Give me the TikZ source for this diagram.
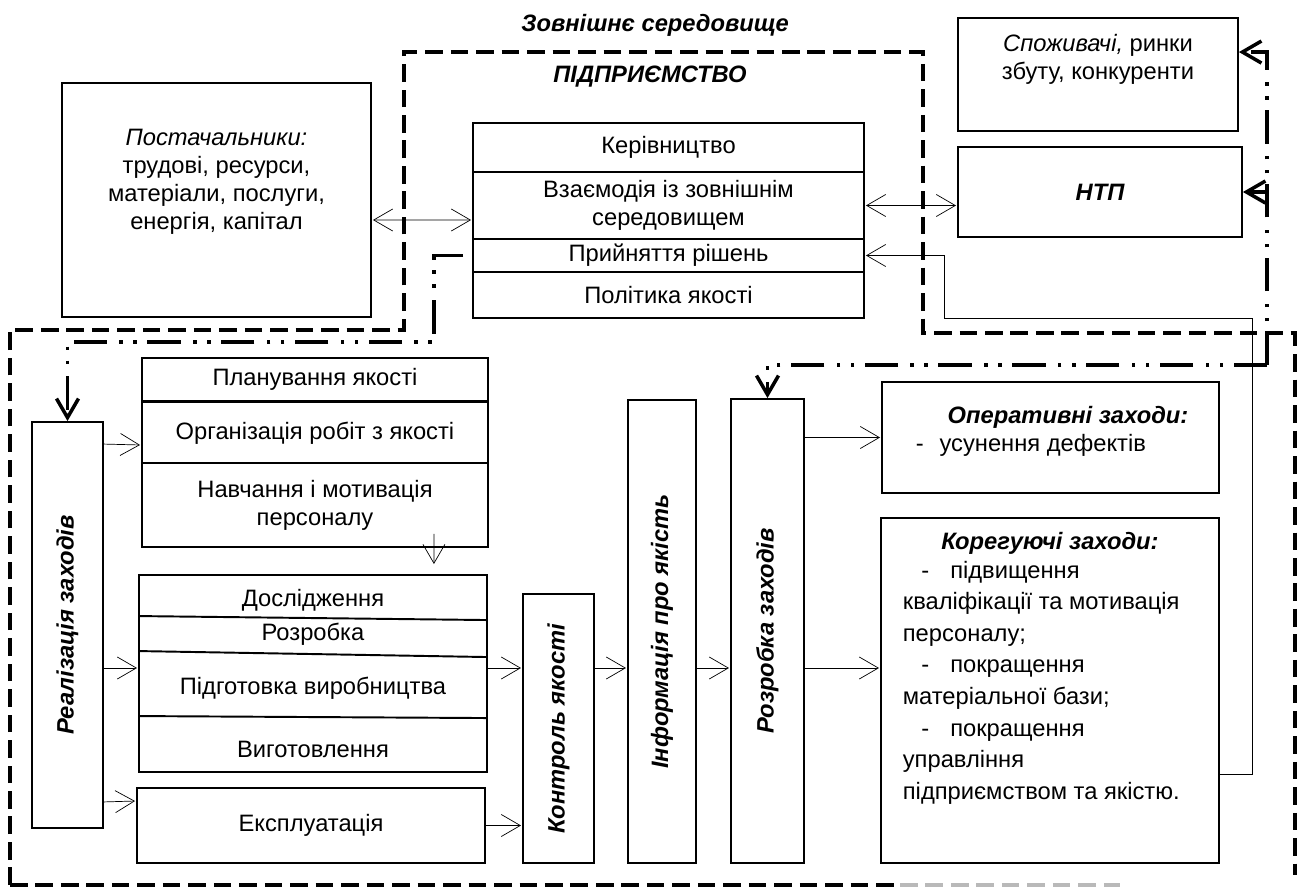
\documentclass[tikz,border=0pt]{standalone}
\usepackage{fontspec}
\setmainfont{Liberation Sans}
\usepackage{tikz}
\usetikzlibrary{
  arrows.meta,
  calc
}

\newcommand{\rowarrow}[2]{%
  \draw[->] (#1.east |- midrow) -- (#2.west |- midrow);
}

\begin{document}
\begin{tikzpicture}[x=0.02cm, y=-0.02cm]

\tikzset{
  block/.style={
    draw,
    rectangle,
    fill=white,
    inner sep=0pt,
    align=center,
    line width=1.1pt,
    font=\fontsize{13.5}{16}\selectfont
},
  caption/.style={
    inner sep=0pt,
    align=center,
    font=\fontsize{13.5}{16}\selectfont
},
  heading/.style={
    inner sep=0pt,
    font=\fontsize{13.5}{16}\selectfont\bfseries\itshape
},
  entborder/.style={
    line width=2.8pt,
    dash pattern=on 10pt off 4.5pt
},
  dashdotline/.style={
    line width=2pt,
    dash pattern=on 19pt off 6pt on 2pt off 6pt on 2pt off 7pt
},
  >={Straight Barb[length=3.8mm, width=4.4mm]},
  line width=1pt
}

\useasboundingbox (0,0) rectangle (1299,889);

% NODES ----------------------------------------------------------

% Titles
\node[heading] (envtitle) at (655,25) {Зовнішнє середовище};
\node[heading] (enttitle) at (650,77) {ПІДПРИЄМСТВО};

% Outside boxes
\node[block, minimum width=6.18cm, minimum height=4.68cm] (supp) at (216.5,200) {};
\node[caption] (supptext) at (216.5,182) {\textit{Постачальники:}\\трудові, ресурси,\\матеріали, послуги,\\енергія, капітал};
\node[block, minimum width=5.6cm, minimum height=2.26cm] (cons) at (1098,74.5) {};
\node[caption] (constext) at (1098,59) {\textit{Споживачі,} ринки\\збуту, конкуренти};
\node[block, minimum width=5.68cm, minimum height=1.8cm] (ntp) at (1100,192) {\bfseries\itshape НТП};

% Management rows
\node[block, minimum width=7.82cm, minimum height=0.98cm] (lead)   at (668.5,147.5) {Керівництво};
\node[block, minimum width=7.82cm, minimum height=1.34cm] (inter)  at (668.5,205.5) {Взаємодія із зовнішнім\\середовищем};
\node[block, minimum width=7.82cm, minimum height=0.66cm] (decis)  at (668.5,255.5) {Прийняття рішень};
\node[block, minimum width=7.82cm, minimum height=0.92cm] (policy) at (668.5,295)   {Політика якості};

% Planning rows
\node[block, minimum width=6.92cm, minimum height=0.86cm] (plan)  at (315,379.5) {Планування якості};
\node[block, minimum width=6.92cm, minimum height=1.24cm] (org)   at (315,433)   {Організація робіт з якості};
\node[block, minimum width=6.92cm, minimum height=1.68cm] (motiv) at (315,505)   {Навчання і мотивація\\персоналу};

% Research box + texts
\node[block, minimum width=6.96cm, minimum height=3.94cm] (res) at (313,673.5) {};
\node[caption] (restext1) at (313,600) {Дослідження};
\node[caption] (restext2) at (313,634) {Розробка};
\node[caption] (restext3) at (313,688) {Підготовка виробництва};
\node[caption] (restext4) at (313,749) {Виготовлення};
\node[block, minimum width=6.96cm, minimum height=1.5cm] (expl) at (311,825.5) {Експлуатація};

% Vertical boxes
\node[block, minimum width=1.42cm, minimum height=8.12cm] (real) at (67.5,625)    {\rotatebox{90}{\bfseries\itshape Реалізація заходів}};
\node[block, minimum width=1.42cm, minimum height=5.38cm] (ctrl) at (558.5,728.5) {\rotatebox{90}{\bfseries\itshape Контроль якості}};
\node[block, minimum width=1.36cm, minimum height=9.26cm] (info) at (662,631.5)   {\rotatebox{90}{\bfseries\itshape Інформація про якість}};
\node[block, minimum width=1.46cm, minimum height=9.28cm] (razr) at (767.5,631)   {\rotatebox{90}{\bfseries\itshape Розробка заходів}};

% Measures
\node[block, minimum width=6.74cm, minimum height=2.22cm] (oper) at (1050.5,437.5) {};
\node[heading] (opertitle) at (1068,417) {Оперативні заходи:};
\node[caption, anchor=west] (opertext) at (915,445) {-\hspace{9pt}усунення дефектів};
\node[block, minimum width=6.76cm, minimum height=6.9cm] (korr) at (1050,690.5) {};
\node[heading] (korrtitle) at (1050,543) {Корегуючі заходи:};
\node[caption, align=left, anchor=north west, font=\fontsize{13.5}{18}\selectfont] (korrtext) at (902,560)
  {\hspace*{10.5pt}-\hspace*{12pt}підвищення\\кваліфікації та мотивація\\персоналу;\\
   \hspace*{10.5pt}-\hspace*{12pt}покращення\\матеріальної бази;\\
   \hspace*{10.5pt}-\hspace*{12pt}покращення\\управління\\підприємством та якістю.};

% DRAWS ---------------------------------------------------------

% Research separators
\draw[line width=1.1pt] ($(res.north west)+(0,42)$)  -- ($(res.north east)+(0,46)$);
\draw[line width=1.1pt] ($(res.north west)+(0,77)$)  -- ($(res.north east)+(0,83)$);
\draw[line width=1.1pt] ($(res.north west)+(0,142)$) -- ($(res.north east)+(0,144)$);

% Enterprise border
\draw[entborder] (10,885) -- (10,330) -- (404,330) -- (404,52) -- (923,52) -- (923,333) -- (1295,333) -- (1295,875);
\draw[entborder] (10,885) -- (900,885);
\draw[entborder, gray!55] (900,885) -- (1120,885);

% Main chain
\coordinate (midrow) at (0,668);
\rowarrow{real}{res}
\rowarrow{res}{ctrl}
\rowarrow{ctrl}{info}
\rowarrow{info}{razr}
\rowarrow{razr}{korr}

\draw[->] ($(real.north east)+(0,23)$) -- ($(org.west)+(0,12)$);
\draw[->] ($(real.south east)+(0,-27)$) -- ($(expl.west)+(0,-24.5)$);
\draw[->] (expl.east) -- (expl.east -| ctrl.west);
\draw[->] ($(motiv.south east)+(-55,-14)$) -- ($(res.north east)+(-54,-9)$);
\draw[->] (oper.west -| razr.east) -- (oper.west);

% Links with the environment
\draw[<->] ($(supp.east)+(0,20)$) -- ($(inter.west)+(0,14.5)$);
\draw[<->] (inter.east) -- (inter.east -| ntp.west);
\draw[->] ($(korr.south east)+(0,-90)$) -- ++(32,0) |- ($(decis.east)+(79,62.5)$) |- (decis.east);

%% Dash-dot feedback
\draw[dashdotline, ->] ($(decis.west)+(-9,0)$) -| ($(real.north)+(366.5,-79)$) -| (real.north);
\coordinate (ddcorner) at (1267,365);
\draw[dashdotline, ->] (ddcorner) |- ($(cons.north east)+(0,35)$);
\draw[dashdotline, ->] (ddcorner |- ntp.east) -- (ntp.east);
\draw[dashdotline, ->] (ddcorner) -| (razr.north);

\end{tikzpicture}
\end{document}
